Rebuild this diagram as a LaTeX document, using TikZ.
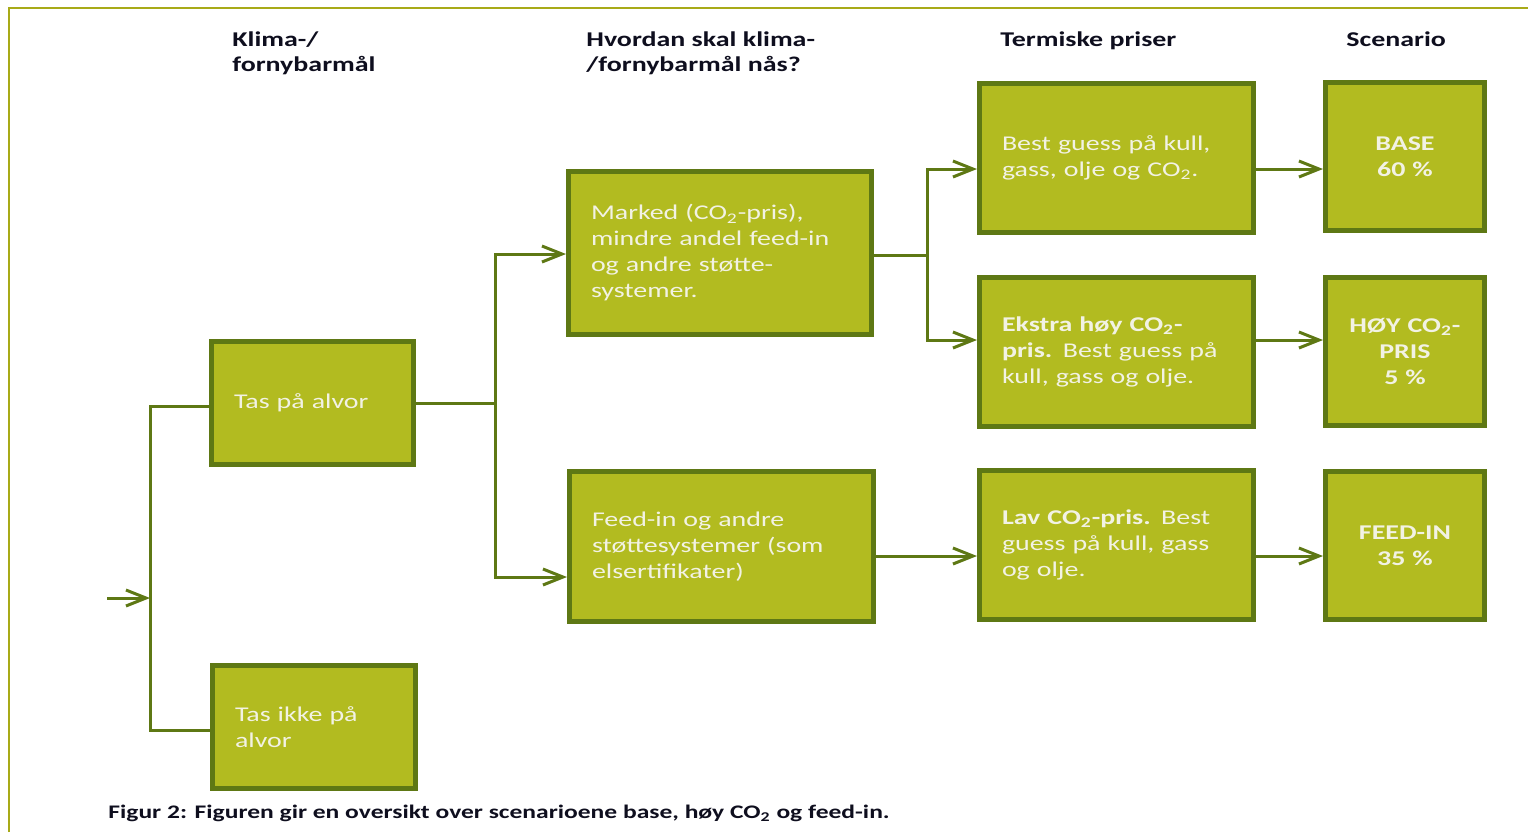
\documentclass[tikz,border=0pt]{standalone}
\usepackage{fontspec}
\setmainfont{Carlito}[FakeStretch=1.33]
\usetikzlibrary{arrows.meta}
\usetikzlibrary{calc}

\definecolor{boxfill}{RGB}{178,187,32}
\definecolor{boxline}{RGB}{94,120,20}
\definecolor{boxtext}{RGB}{242,242,228}
\definecolor{frameline}{RGB}{168,170,24}
\definecolor{headtext}{RGB}{14,14,30}

\begin{document}
\begin{tikzpicture}[x=0.5pt, y=-0.5pt]
            \tikzstyle{box} = [draw=boxline, fill=boxfill, line width=2.5pt, text=boxtext, inner xsep=11.25pt, inner ysep=0pt, align=left, font=\fontsize{10.5}{13}\selectfont]
            \tikzstyle{prices} = [box, text width=114.5pt, minimum height=74.5pt]
            \tikzstyle{scen} = [box, align=center, text width=57pt, minimum height=74pt, font=\fontsize{10.5}{13}\selectfont\bfseries]
            \tikzstyle{head} = [anchor=north west, inner sep=0pt, align=left, text=headtext, font=\fontsize{10.5}{12.5}\selectfont\bfseries]
            \tikzstyle{link} = [boxline, line width=1.5pt]
            \tikzstyle{arr} = [link, -{Straight Barb[length=10pt, width=8pt]}]
            \useasboundingbox (0, 0) rectangle (1528, 832);
            \draw[frameline, line width=1pt] (9, 832) -- (9, 8) -- (1528, 8);
            % column heads
            \node[head] (h1) at (232, 31) {Klima-/\\fornybarmål};
            \node[head] (h2) at (586, 31) {Hvordan skal klima-\\/fornybarmål nås?};
            \node[head] (h3) at (1000, 31) {Termiske priser};
            \node[head] (h4) at (1346, 31) {Scenario};
            % boxes
            \node[box, text width=78.5pt, minimum height=61.5pt] (alvor) at (312.5, 403) {Tas på alvor};
            \node[box, text width=79pt, minimum height=61.5pt] (ikke) at (314, 727) {Tas ikke på\\alvor};
            \node[box, text width=129pt, minimum height=81.5pt] (marked) at (720, 253) {Marked (CO\textsubscript{2}-pris),\\mindre andel feed-in\\og andre støtte-\\systemer.};
            \node[box, text width=129.5pt, minimum height=75pt] (feedin) at (721.5, 546.5) {Feed-in og andre\\støttesystemer (som\\elsertifikater)};
            \node[prices] (best) at (1116.5, 157.5) {Best guess på kull,\\gass, olje og CO\textsubscript{2}.};
            \node[prices] (ekstra) at (1116.5, 352) {\textbf{Ekstra høy CO\textsubscript{2}-}\\\textbf{pris.} Best guess på\\kull, gass og olje.};
            \node[prices] (lav) at (1116.5, 545) {\textbf{Lav CO\textsubscript{2}-pris.} Best\\guess på kull, gass\\og olje.};
            \node[scen] (base) at (1405, 156.5) {BASE\\60 \%};
            \node[scen] (hoy) at (1405, 351.5) {HØY CO\textsubscript{2}-\\PRIS\\5 \%};
            \node[scen] (feed) at (1405, 545.5) {FEED-IN\\35 \%};
            % tree
            \coordinate (start) at (107, 598);
            \coordinate (split) at (150, 598);
            \coordinate (fork1) at (495, 403);
            \coordinate (fork2) at (927, 255);
            \draw[arr] (start) -- (split);
            \draw[link] ([yshift=-1.5pt]alvor.west) -| (split) |- ([yshift=-1.5pt]ikke.west);
            \draw[link] (alvor.east) -- (fork1);
            \draw[arr] (fork1) |- ([yshift=-0.5pt]marked.west);
            \draw[arr] (fork1) |- ([yshift=-15.25pt]feedin.west);
            \draw[link] ([yshift=-1pt]marked.east) -- (fork2);
            \draw[arr] (fork2) |- ([yshift=-5.75pt]best.west);
            \draw[arr] (fork2) |- ([yshift=6pt]ekstra.west);
            \draw[arr] ([yshift=-4.75pt]feedin.east) -- ([yshift=-4.75pt]feedin.east -| lav.west);
            \draw[arr] ([yshift=-5.75pt]best.east) -- ([yshift=-5.75pt]best.east -| base.west);
            \draw[arr] ([yshift=6pt]ekstra.east) -- ([yshift=6pt]ekstra.east -| hoy.west);
            \draw[arr] ([yshift=-5.5pt]lav.east) -- ([yshift=-5.5pt]lav.east -| feed.west);
            % caption
            \node[anchor=west, inner sep=0pt, text=headtext, font=\fontsize{9.6}{11}\selectfont\bfseries] (caption) at (108, 813) {Figur 2: Figuren gir en oversikt over scenarioene base, høy CO\textsubscript{2} og feed-in.};
        \end{tikzpicture}
\end{document}
